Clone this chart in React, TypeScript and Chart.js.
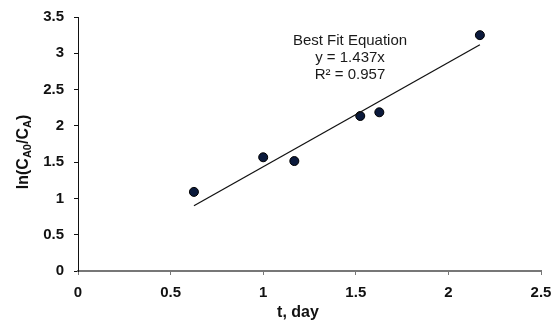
import React, { useEffect, useRef } from "react";
import { Chart, registerables } from "chart.js";

Chart.register(...registerables);

const tValues = [0.626, 1.0, 1.168, 1.524, 1.627, 2.17];
const lnValues = [1.09, 1.567, 1.515, 2.136, 2.187, 3.25];
const fitSlope = 1.437;
const fitRange = [0.626, 2.17];
const annotationLines = ["Best Fit Equation", "y = 1.437x", "R\u00b2 = 0.957"];
const xTitle = "t, day";

const FONT = "'Liberation Sans', Arial, sans-serif";

const customText = {
  id: "customText",
  afterDraw(chart: any) {
    const ctx = chart.ctx;
    const xs = chart.scales.x;
    const ys = chart.scales.y;
    ctx.save();
    // annotation
    ctx.fillStyle = "#1a1a1a";
    ctx.font = `15px ${FONT}`;
    ctx.textAlign = "center";
    ctx.textBaseline = "middle";
    const ax = 350;
    const ay0 = 41;
    annotationLines.forEach((l, i) => ctx.fillText(l, ax, ay0 + i * 17));
    // x title
    ctx.fillStyle = "#111";
    ctx.font = `bold 16px ${FONT}`;
    ctx.fillText(xTitle, 298, 313);
    // y title with subscripts
    const parts: [string, boolean][] = [
      ["ln(C", false],
      ["A0", true],
      ["/C", false],
      ["A", true],
      [")", false],
    ];
    const big = `bold 16px ${FONT}`;
    const small = `bold 11px ${FONT}`;
    let total = 0;
    parts.forEach(([t, s]) => {
      ctx.font = s ? small : big;
      total += ctx.measureText(t).width;
    });
    ctx.translate(22, 152);
    ctx.rotate(-Math.PI / 2);
    ctx.textAlign = "left";
    ctx.textBaseline = "alphabetic";
    let x = -total / 2;
    parts.forEach(([t, s]) => {
      ctx.font = s ? small : big;
      ctx.fillText(t, x, s ? 9 : 6);
      x += ctx.measureText(t).width;
    });
    ctx.restore();
  },
};

export default function App() {
  const ref = useRef<HTMLCanvasElement>(null);
  useEffect(() => {
    const scatter = tValues.map((t, i) => ({ x: t, y: lnValues[i] }));
    const fit = fitRange.map((t) => ({ x: t, y: fitSlope * t }));
    const fmt = (v: any) => String(Number(v));
    const chart = new Chart(ref.current!, {
      type: "scatter",
      data: {
        datasets: [
          {
            type: "line",
            data: fit,
            borderColor: "#111",
            borderWidth: 1.3,
            pointRadius: 0,
            fill: false,
          } as any,
          {
            data: scatter,
            backgroundColor: "#0b1a3c",
            borderColor: "#000",
            borderWidth: 1,
            pointRadius: 4.5,
          },
        ],
      },
      options: {
        responsive: false,
        animation: false,
        devicePixelRatio: 1,
        layout: { padding: { top: 17, right: 12, left: 0, bottom: 0 } },
        plugins: { legend: { display: false }, tooltip: { enabled: false } },
        scales: {
          x: {
            type: "linear",
            min: 0,
            max: 2.5,
            afterFit: (s: any) => {
              s.height = 60;
              s.paddingRight = 0;
              s.paddingLeft = 0;
            },
            ticks: {
              stepSize: 0.5,
              color: "#111",
              font: { family: FONT, size: 15, weight: "bold" },
              padding: 9,
              maxRotation: 0,
              callback: fmt,
            },
            grid: { drawOnChartArea: false, color: "#777", tickLength: 4, lineWidth: 1 },
            border: { color: "#777", width: 2 },
          },
          y: {
            type: "linear",
            min: 0,
            max: 3.5,
            afterFit: (s: any) => {
              s.width = 78;
              s.paddingTop = 0;
              s.paddingBottom = 0;
            },
            ticks: {
              stepSize: 0.5,
              color: "#111",
              font: { family: FONT, size: 15, weight: "bold" },
              padding: 10,
              callback: fmt,
            },
            grid: { drawOnChartArea: false, color: "#111", tickLength: 4 },
            border: { color: "#111", width: 1 },
          },
        },
      },
      plugins: [customText],
    });
    return () => chart.destroy();
  }, []);
  return (
    <div style={{ position: "fixed", left: 0, top: 0, width: 553, height: 331, background: "#fff" }}>
      <canvas ref={ref} width={553} height={331} />
    </div>
  );
}
